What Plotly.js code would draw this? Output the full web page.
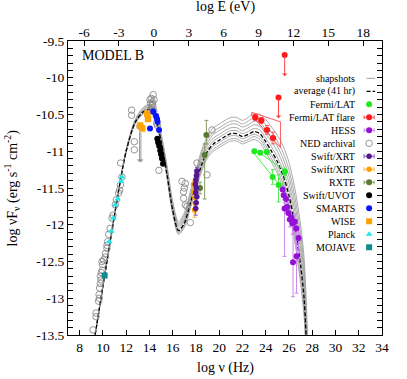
<!DOCTYPE html>
<html>
<head>
<meta charset="utf-8">
<script src="https://cdn.plot.ly/plotly-3.0.1.min.js"></script>
<style>body { margin: 0; background: #fff; }</style>
</head>
<body>
<div id="sed" style="width:407px;height:379px"></div>
<script>
// model curves: shared frequency grid, 8 snapshots + the 41 hr average
var gridNu = [9.25, 10, 11, 12, 12.8, 13.5, 14, 14.5, 15, 15.5, 16, 16.5, 17, 17.5, 18, 18.5, 19, 19.5, 20, 20.5, 21, 21.5, 22, 22.5, 23, 23.5, 24, 24.5, 25, 25.5, 26, 26.5, 27, 27.3, 27.5, 27.7];
var avgF = [-13.58, -12.84, -11.87, -11.0, -10.6, -10.46, -10.43, -10.55, -10.86, -11.3, -11.8, -12.08, -11.98, -11.72, -11.44, -11.18, -11.0, -10.9, -10.85, -10.8, -10.76, -10.76, -10.8, -10.77, -10.73, -10.76, -10.87, -11.0, -11.14, -11.33, -11.6, -12.0, -12.55, -13.0, -13.6, -14.2];
var snap1 = [-13.58, -12.84, -11.87, -10.98, -10.56, -10.40, -10.36, -10.47, -10.76, -11.18, -11.68, -11.96, -11.84, -11.56, -11.26, -10.98, -10.79, -10.68, -10.63, -10.58, -10.54, -10.54, -10.58, -10.54, -10.49, -10.50, -10.57, -10.67, -10.78, -10.93, -11.15, -11.5, -12.0, -12.45, -13.1, -14.2];
var snap2 = [-13.58, -12.84, -11.87, -10.98, -10.57, -10.41, -10.38, -10.49, -10.78, -11.21, -11.71, -11.99, -11.87, -11.6, -11.3, -11.02, -10.84, -10.73, -10.68, -10.63, -10.59, -10.59, -10.63, -10.59, -10.54, -10.56, -10.64, -10.74, -10.86, -11.02, -11.25, -11.61, -12.12, -12.57, -13.21, -14.2];
var snap3 = [-13.58, -12.84, -11.87, -10.99, -10.58, -10.43, -10.39, -10.5, -10.8, -11.23, -11.73, -12.01, -11.9, -11.63, -11.34, -11.06, -10.88, -10.77, -10.72, -10.67, -10.63, -10.63, -10.67, -10.64, -10.59, -10.61, -10.7, -10.81, -10.93, -11.1, -11.34, -11.71, -12.23, -12.68, -13.31, -14.2];
var snap4 = [-13.58, -12.84, -11.87, -10.99, -10.58, -10.44, -10.4, -10.52, -10.82, -11.25, -11.75, -12.03, -11.93, -11.66, -11.37, -11.1, -10.92, -10.82, -10.77, -10.72, -10.68, -10.68, -10.72, -10.68, -10.64, -10.66, -10.76, -10.87, -11.0, -11.18, -11.43, -11.81, -12.34, -12.79, -13.41, -14.2];
var snap5 = [-13.58, -12.84, -11.87, -11.0, -10.59, -10.45, -10.42, -10.54, -10.84, -11.28, -11.78, -12.06, -11.95, -11.69, -11.41, -11.14, -10.96, -10.86, -10.81, -10.76, -10.72, -10.72, -10.76, -10.73, -10.69, -10.71, -10.82, -10.94, -11.08, -11.26, -11.52, -11.91, -12.45, -12.9, -13.51, -14.2];
var snap6 = [-13.58, -12.84, -11.87, -11.0, -10.61, -10.47, -10.44, -10.56, -10.88, -11.32, -11.82, -12.1, -12.0, -11.74, -11.47, -11.21, -11.03, -10.93, -10.88, -10.83, -10.79, -10.79, -10.83, -10.8, -10.77, -10.8, -10.92, -11.05, -11.19, -11.39, -11.67, -12.08, -12.63, -13.08, -13.68, -14.2];
var snap7 = [-13.58, -12.84, -11.87, -11.01, -10.61, -10.48, -10.45, -10.57, -10.89, -11.34, -11.84, -12.12, -12.02, -11.77, -11.49, -11.24, -11.06, -10.97, -10.92, -10.87, -10.83, -10.83, -10.87, -10.84, -10.8, -10.84, -10.96, -11.1, -11.25, -11.45, -11.74, -12.15, -12.72, -13.17, -13.75, -14.2];
var snap8 = [-13.58, -12.84, -11.87, -11.01, -10.62, -10.49, -10.46, -10.59, -10.91, -11.35, -11.85, -12.13, -12.04, -11.79, -11.52, -11.27, -11.09, -11.0, -10.95, -10.9, -10.86, -10.86, -10.9, -10.87, -10.84, -10.88, -11.01, -11.15, -11.3, -11.51, -11.8, -12.23, -12.8, -13.25, -13.83, -14.2];

// NED archival
var nedNu = [9.15, 9.41, 9.41, 9.63, 9.69, 9.67, 9.72, 9.78, 9.84, 9.78, 9.86, 9.95, 9.92, 9.97, 10.06, 10.21, 10.23, 10.35, 10.35, 10.41, 10.5, 10.62, 10.78, 10.87, 11.07, 11.15, 11.35, 11.44, 11.5, 11.64, 11.53, 12.47, 12.47, 12.7, 12.7, 13.19, 14.05, 14.1, 14.15, 14.2, 14.25, 14.3, 14.33, 14.38, 14.2, 14.15, 14.62, 14.7, 14.28, 14.4, 14.82, 16.8, 17.09, 17.0, 16.94, 16.94, 17.09, 17.23, 17.52, 18.09, 18.95, 19.38];
var nedF = [-13.43, -13.2, -13.25, -13.04, -13.0, -12.95, -12.86, -12.8, -12.75, -12.7, -12.65, -12.62, -12.5, -12.54, -12.48, -12.44, -12.39, -12.32, -12.28, -12.23, -12.13, -12.05, -11.91, -11.87, -11.73, -11.66, -11.57, -11.53, -11.46, -11.35, -11.16, -10.44, -10.51, -10.87, -10.98, -10.66, -10.3, -10.35, -10.28, -10.38, -10.33, -10.4, -10.23, -10.45, -10.45, -10.42, -10.62, -10.65, -10.36, -10.3, -11.26, -11.41, -11.44, -11.5, -11.55, -11.64, -11.73, -11.75, -11.97, -11.16, -11.32, -10.71];
var nedUlNu = [13.15, 13.27];
var nedUlFrom = [-10.72, -10.72];
var nedUlTo = [-11.15, -11.15];

var planckNu = [10.55, 10.72, 10.9, 11.07, 11.26, 11.56, 11.64];
var planckF = [-12.23, -12.09, -11.91, -11.73, -11.65, -11.41, -11.35];
var mojaveNu = [10.15];
var mojaveF = [-12.69];
var wiseNu = [13.2, 13.38, 13.82, 13.88];
var wiseF = [-10.65, -10.69, -10.49, -10.56];
var smartsNu = [14.33, 14.58, 14.66, 14.7, 14.05, 14.83];
var smartsF = [-10.46, -10.52, -10.56, -10.6, -10.69, -10.71];
var uvotNu = [14.68, 14.75, 14.84, 14.93, 15.0, 15.08, 15.17];
var uvotF = [-10.83, -10.88, -10.93, -10.99, -11.04, -11.1, -11.17];

var rxteNu = [18.9, 18.75, 18.35];
var rxteF = [-10.78, -11.05, -11.5];
var rxteUp = [0.2, 0.15, 0.08];
var rxteDown = [0.12, 0.6, 0.08];

var xrtNu = [18.08, 18.05, 18.0, 17.95, 18.05, 17.98, 18.08, 18.02, 17.98];
var xrtF = [-11.27, -11.33, -11.39, -11.45, -11.5, -11.56, -11.62, -11.7, -11.78];
var xrtErr = [0.05, 0.05, 0.06, 0.06, 0.06, 0.07, 0.07, 0.08, 0.09];
var xrt2Nu = [17.8, 17.85, 17.92, 17.95, 17.88];
var xrt2F = [-11.45, -11.55, -11.63, -11.71, -11.8];
var xrt2Err = [0.06, 0.07, 0.08, 0.09, 0.1];

var hessNu = [25.45, 25.55, 25.62, 25.75, 25.85, 25.95, 26.08, 26.2, 26.3, 26.5, 26.62, 26.83, 26.65, 26.35];
var hessF = [-11.52, -11.6, -11.78, -11.65, -11.76, -11.84, -11.93, -11.9, -11.98, -11.96, -12.05, -12.18, -12.43, -12.51];
var hessUp = [0.05, 0.05, 0.08, 0.05, 0.06, 0.07, 0.08, 0.08, 0.1, 0.1, 0.12, 0.15, 0.45, 0.5];
var hessDown = [0.06, 0.06, 0.65, 0.07, 0.08, 0.1, 0.1, 0.12, 0.15, 0.15, 0.2, 0.3, 0.5, 0.47];

var latNu = [23.02, 23.53, 24.1, 24.6, 25.1, 25.65];
var latF = [-11.0, -11.02, -11.01, -11.35, -11.46, -11.28];
var latUp = [0.02, 0.02, 0.03, 0.1, 0.14, 0.05];
var latDown = [0.02, 0.02, 0.03, 0.1, 0.23, 0.05];
var latBowNu = [23.0, 25.7, 25.4, 23.0];
var latBowF = [-10.97, -11.27, -11.5, -11.03];

var flareNu = [23.1, 23.62, 24.11, 24.63];
var flareF = [-10.54, -10.58, -10.71, -10.82];
var flareErr = [0.04, 0.04, 0.06, 0.08];
var flareBowNu = [22.8, 25.27, 25.27, 22.8, 22.8];
var flareBowF = [-10.47, -10.6, -10.95, -10.52, -10.47];
var flareUlNu = [25.1, 25.63];
var flareUlFrom = [-10.27, -9.69];
var flareUlTo = [-10.55, -9.98];

var nuTicks = [8, 10, 12, 14, 16, 18, 20, 22, 24, 26, 28, 30, 32, 34];
var eTicks = [-6, -3, 0, 3, 6, 9, 12, 15, 18];
var eTickText = ['-6', '-3', '0', '3', '6', '9', '12', '15', '18'];
var fTicks = [-13.5, -13, -12.5, -12, -11.5, -11, -10.5, -10, -9.5];
var fTickText = ['-13.5', '-13', '-12.5', '-12', '-11.5', '-11', '-10.5', '-10', '-9.5'];

var legendNames = ['shapshots', 'average (41 hr)', 'Fermi/LAT', 'Fermi/LAT flare', 'HESS', 'NED archival', 'Swift/XRT', 'Swift/XRT', 'RXTE', 'Swift/UVOT', 'SMARTS', 'WISE', 'Planck', 'MOJAVE'];

var logH = 14.383; // log E(eV) = log nu - 14.383

var data = [];
[snap1, snap2, snap3, snap4, snap5, snap6, snap7, snap8].forEach(function (s) {
    data.push({x: gridNu, y: s, mode: 'lines', line: {color: '#a0a0a0', width: 0.9, shape: 'spline', smoothing: 0.8}, hoverinfo: 'skip'});
});
data.push({x: gridNu, y: avgF, mode: 'lines', line: {color: '#000', width: 1.3, dash: '4px,2px', shape: 'spline', smoothing: 0.8}});

function errPts(x, y, col, up, down, dx, ecol, sym, size) {
    return {
        x: x, y: y, mode: 'markers',
        marker: {color: col, size: size || 6, symbol: sym || 'circle'},
        error_y: {type: 'data', array: up, arrayminus: down, symmetric: false, color: ecol, thickness: 1, width: 2},
        error_x: {type: 'data', array: dx, color: ecol, thickness: 1, width: 2}
    };
}
function fill(n, v) { var a = []; for (var i = 0; i < n; i++) a.push(v); return a; }

data.push({x: latBowNu, y: latBowF, mode: 'lines', line: {color: '#33e633', width: 0.9}});
data.push({x: flareBowNu, y: flareBowF, mode: 'lines', line: {color: '#ff4d4d', width: 0.9}});
data.push({x: nedNu, y: nedF, mode: 'markers', marker: {symbol: 'circle-open', color: '#8a8a8a', size: 6.5, line: {width: 0.9}}});
data.push({x: planckNu, y: planckF, mode: 'markers', marker: {symbol: 'triangle-up', color: '#1ee6ee', size: 6}});
data.push({x: mojaveNu, y: mojaveF, mode: 'markers', marker: {symbol: 'square', color: '#118c8c', size: 6}});
data.push({x: wiseNu, y: wiseF, mode: 'markers', marker: {symbol: 'square', color: '#ffa200', size: 6.5}});
data.push({x: smartsNu, y: smartsF, mode: 'markers', marker: {color: '#0a14ff', size: 6}});
data.push({x: uvotNu, y: uvotF, mode: 'markers', marker: {color: '#000', size: 6}});
data.push(errPts(rxteNu, rxteF, '#5a7a32', rxteUp, rxteDown, fill(3, 0.12), '#8a9a6a'));
data.push(errPts(xrt2Nu, xrt2F, '#ffa000', xrt2Err, xrt2Err, fill(5, 0.1), '#ffb84d', 'circle', 5.5));
data.push(errPts(xrtNu, xrtF, '#55168f', xrtErr, xrtErr, fill(9, 0.1), '#8a5ab8', 'circle', 5.5));
data.push(errPts(hessNu, hessF, '#9410d6', hessUp, hessDown, fill(14, 0.05), '#cc8aeb'));
data.push(errPts(latNu, latF, '#22e822', latUp, latDown, fill(6, 0.05), '#55e855'));
data.push(errPts(flareNu, flareF, '#ff1a1a', flareErr, flareErr, fill(4, 0.22), '#ff5050'));
data.push({x: flareUlNu, y: flareUlFrom, mode: 'markers', marker: {color: '#ff1a1a', size: 6},
    error_x: {type: 'data', array: fill(2, 0.1), color: '#ff5050', thickness: 1, width: 2}});
// top axis carrier (off-screen)
data.push({x: [0], y: [-20], xaxis: 'x2', yaxis: 'y', mode: 'markers', hoverinfo: 'skip'});

// legend keys, drawn on an overlay axis in plot fractions
var keyX = 0.959, keyY0 = 0.873, keyStep = 0.0442;
function ky(i) { return keyY0 - i * keyStep; }
var legendKeys = [
    {x: [0.951, 0.978], y: [ky(0), ky(0)], mode: 'lines', line: {color: '#a0a0a0', width: 1}},
    {x: [0.951, 0.978], y: [ky(1), ky(1)], mode: 'lines', line: {color: '#000', width: 1.3, dash: '4px,2px'}},
    {x: [keyX], y: [ky(2)], mode: 'markers', marker: {color: '#22e822', size: 6}},
    {x: [keyX], y: [ky(3)], mode: 'markers', marker: {color: '#ff1a1a', size: 6}, error_x: {type: 'data', array: [0.016], color: '#ff5050', thickness: 1, width: 2}},
    {x: [keyX], y: [ky(4)], mode: 'markers', marker: {color: '#9410d6', size: 6}, error_x: {type: 'data', array: [0.016], color: '#cc8aeb', thickness: 1, width: 2}},
    {x: [keyX], y: [ky(5)], mode: 'markers', marker: {symbol: 'circle-open', color: '#8a8a8a', size: 6.5, line: {width: 0.9}}},
    {x: [keyX], y: [ky(6)], mode: 'markers', marker: {color: '#55168f', size: 5.5}, error_x: {type: 'data', array: [0.016], color: '#8a5ab8', thickness: 1, width: 2}},
    {x: [keyX], y: [ky(7)], mode: 'markers', marker: {color: '#ffa000', size: 5.5}, error_x: {type: 'data', array: [0.016], color: '#ffb84d', thickness: 1, width: 2}},
    {x: [keyX], y: [ky(8)], mode: 'markers', marker: {color: '#5a7a32', size: 6}, error_x: {type: 'data', array: [0.016], color: '#8a9a6a', thickness: 1, width: 2}},
    {x: [keyX], y: [ky(9)], mode: 'markers', marker: {color: '#000', size: 6}},
    {x: [keyX], y: [ky(10)], mode: 'markers', marker: {color: '#0a14ff', size: 6}},
    {x: [keyX], y: [ky(11)], mode: 'markers', marker: {symbol: 'square', color: '#ffa200', size: 6}},
    {x: [keyX], y: [ky(12)], mode: 'markers', marker: {symbol: 'triangle-up', color: '#1ee6ee', size: 6}},
    {x: [keyX], y: [ky(13)], mode: 'markers', marker: {symbol: 'square', color: '#118c8c', size: 6}}
];
legendKeys.forEach(function (t) { t.xaxis = 'x3'; t.yaxis = 'y2'; t.hoverinfo = 'skip'; data.push(t); });

var annotations = [];
legendNames.forEach(function (name, i) {
    annotations.push({xref: 'paper', yref: 'paper', x: 0.921, y: ky(i), xanchor: 'right', yanchor: 'middle',
        text: name, showarrow: false, font: {size: 10}});
});
function upperLimit(x, from, to, col) {
    annotations.push({xref: 'x', yref: 'y', axref: 'x', ayref: 'y', x: x, y: to, ax: x, ay: from,
        text: '', showarrow: true, arrowhead: 1, arrowsize: 0.9, arrowwidth: 1, arrowcolor: col});
}
for (var i = 0; i < nedUlNu.length; i++) upperLimit(nedUlNu[i], nedUlFrom[i], nedUlTo[i], '#9a9a9a');
for (var j = 0; j < flareUlNu.length; j++) upperLimit(flareUlNu[j], flareUlFrom[j], flareUlTo[j], '#ff4040');

annotations.push({xref: 'paper', yref: 'paper', x: 0.039, y: 0.952, xanchor: 'left', yanchor: 'middle', text: 'MODEL B', showarrow: false, font: {size: 14}});
annotations.push({xref: 'paper', yref: 'paper', x: 0.5, y: -0.112, xanchor: 'center', yanchor: 'middle', text: 'log \u03bd (Hz)', showarrow: false, font: {size: 14}});
annotations.push({xref: 'paper', yref: 'paper', x: 0.5, y: 1.116, xanchor: 'center', yanchor: 'middle', text: 'log E (eV)', showarrow: false, font: {size: 14}});
annotations.push({xref: 'paper', yref: 'paper', x: -0.177, y: 0.5, xanchor: 'center', yanchor: 'middle', textangle: -90,
    text: 'log \u03bdF<sub>\u03bd</sub> (erg s<sup>-1</sup> cm<sup>-2</sup>)', showarrow: false, font: {size: 14}});

var layout = {
    width: 407,
    height: 379,
    margin: {l: 68, r: 25, t: 41, b: 44},
    paper_bgcolor: '#fff',
    plot_bgcolor: '#fff',
    showlegend: false,
    font: {family: '"Liberation Serif", "DejaVu Serif", serif', size: 13.5, color: '#000'},
    xaxis: {
        range: [7, 34], tickmode: 'array', tickvals: nuTicks, ticks: 'inside', ticklen: 5, tickcolor: '#000',
        showline: true, linecolor: '#000', linewidth: 1, mirror: true, showgrid: false, zeroline: false, fixedrange: true
    },
    xaxis2: {
        overlaying: 'x', side: 'top', range: [7 - logH, 34 - logH], tickmode: 'array', tickvals: eTicks, ticktext: eTickText,
        ticks: 'inside', ticklen: 5, tickcolor: '#000', showline: false, showgrid: false, zeroline: false, fixedrange: true
    },
    xaxis3: {overlaying: 'x', range: [0, 1], visible: false, fixedrange: true},
    yaxis: {
        range: [-13.5, -9.5], tickmode: 'array', tickvals: fTicks, ticktext: fTickText, ticks: 'inside', ticklen: 5, tickcolor: '#000',
        showline: true, linecolor: '#000', linewidth: 1, mirror: 'allticks', showgrid: false, zeroline: false, fixedrange: true,
        minor: {tickmode: 'linear', tick0: -13.5, dtick: 0.1, ticks: 'inside', ticklen: 2.5, tickcolor: '#000', showgrid: false}
    },
    yaxis2: {overlaying: 'y', range: [0, 1], visible: false, fixedrange: true},
    annotations: annotations
};

Plotly.newPlot('sed', data, layout, {displayModeBar: false, staticPlot: true});
</script>
</body>
</html>
